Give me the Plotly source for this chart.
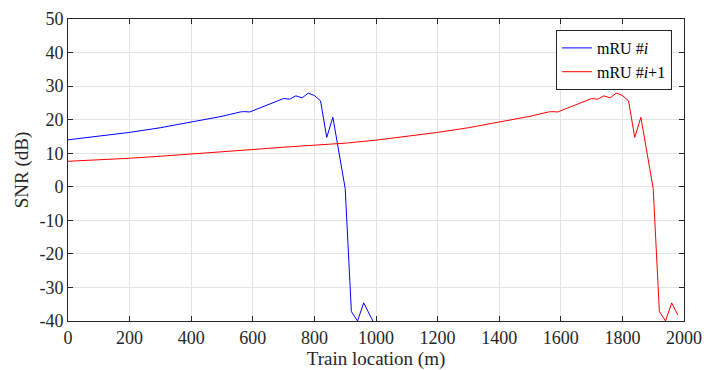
import plotly.graph_objects as go

# Blue: mRU #i
blue_x = [0, 100, 200, 300, 400, 500, 560, 570, 590, 640, 700, 720, 740, 760, 780, 800, 820, 840, 860, 900, 920, 940, 960, 980, 1000]
blue_y = [14.0, 15.0, 16.2, 17.6, 19.2, 21.0, 22.3, 22.4, 22.3, 24.2, 26.3, 26.1, 27.1, 26.5, 27.9, 27.2, 25.6, 14.7, 20.7, -0.5, -37.2, -40.0, -34.6, -38.2, -41.8]

# Red: mRU #i+1
red_x = [0, 100, 200, 300, 400, 500, 600, 700, 800, 900, 1000, 1100, 1200, 1300, 1400, 1500,
         1560, 1570, 1590, 1640, 1700, 1720, 1740, 1760, 1780, 1800, 1820, 1840, 1860, 1900,
         1920, 1940, 1960, 1980]
red_y = [7.6, 8.0, 8.5, 9.1, 9.7, 10.4, 11.1, 11.8, 12.4, 13.0, 13.9, 15.0, 16.2, 17.6, 19.2, 21.0,
         22.3, 22.4, 22.3, 24.2, 26.3, 26.1, 27.1, 26.5, 27.9, 27.2, 25.6, 14.7, 20.7, -0.5,
         -37.2, -40.0, -34.6, -38.2]

x_ticks = [0, 200, 400, 600, 800, 1000, 1200, 1400, 1600, 1800, 2000]
y_ticks = [-40, -30, -20, -10, 0, 10, 20, 30, 40, 50]

FONT = "Liberation Serif"
axis_col = "#262626"
grid_col = "#e3e3e3"

fig = go.Figure()
fig.add_trace(go.Scatter(x=blue_x, y=blue_y, mode="lines", name="mRU #<i>i</i>",
                         line=dict(color="#0000ff", width=1)))
fig.add_trace(go.Scatter(x=red_x, y=red_y, mode="lines", name="mRU #<i>i</i>+1",
                         line=dict(color="#ff0000", width=1)))

axis_common = dict(showline=True, linecolor=axis_col, linewidth=1, mirror="ticks",
                   ticks="inside", ticklen=5, tickcolor=axis_col, tickwidth=1,
                   showgrid=True, gridcolor=grid_col, gridwidth=1, zeroline=False,
                   automargin=False,
                   tickfont=dict(family=FONT, size=18, color="#262626"))

fig.update_xaxes(range=[0, 2000], tickvals=x_ticks, ticktext=[str(v) for v in x_ticks],
                 title=dict(text="Train location (m)", font=dict(family=FONT, size=19, color="#262626"),
                            standoff=0),
                 **axis_common)
fig.update_yaxes(range=[-40, 50], tickvals=y_ticks, ticktext=[str(v) for v in y_ticks],
                 title=dict(text="SNR (dB)", font=dict(family=FONT, size=19, color="#262626"),
                            standoff=5),
                 **axis_common)

fig.update_layout(
    width=704, height=370,
    margin=dict(l=68, r=20, t=19, b=49),
    paper_bgcolor="white", plot_bgcolor="white",
    font=dict(family=FONT, size=18, color="#262626"),
    legend=dict(x=0.9805, y=0.9636, xanchor="right", yanchor="top",
                bgcolor="white", bordercolor=axis_col, borderwidth=1,
                font=dict(family=FONT, size=16, color="#000000"),
                tracegroupgap=0, itemwidth=30),
    showlegend=True,
)

fig.write_html("out.html",
               config={"displayModeBar": False},
               post_script="document.documentElement.style.margin='0';"
                           "document.body.style.margin='0';"
                           "document.body.style.overflow='hidden';")
